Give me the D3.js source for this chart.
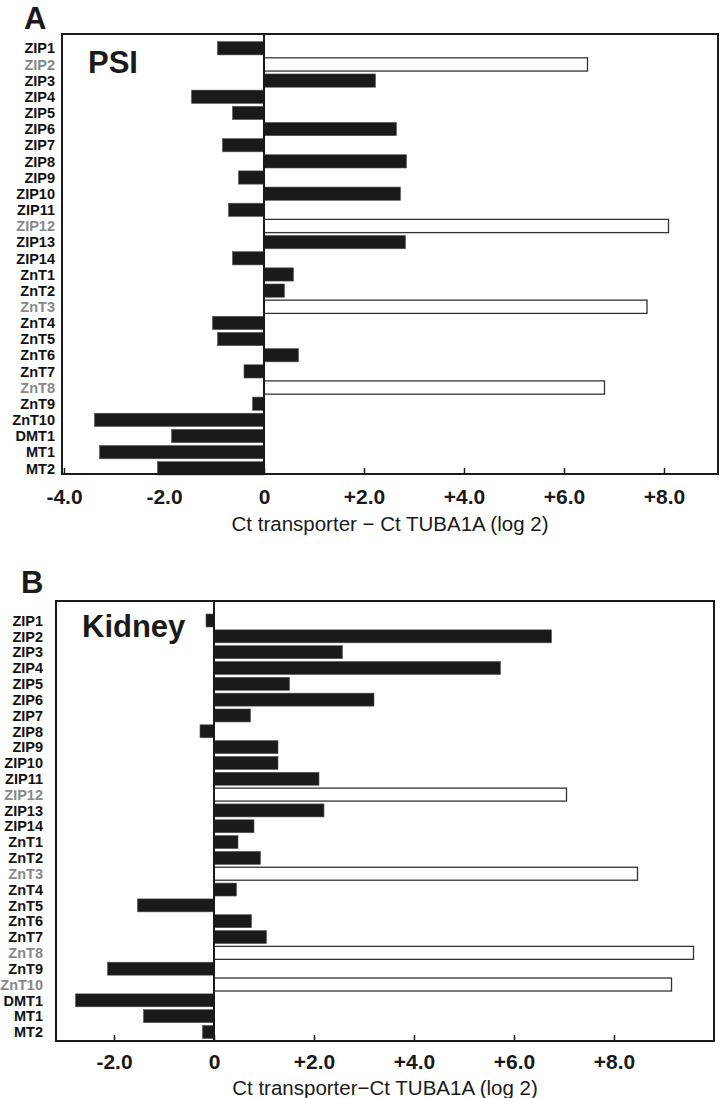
<!DOCTYPE html>
<html>
<head>
<meta charset="utf-8">
<script src="https://cdn.jsdelivr.net/npm/d3@7/dist/d3.min.js"></script>
<style>
  body { margin: 0; background: #fff; }
  svg { display: block; font-family: "Liberation Sans", Arial, sans-serif; }
</style>
</head>
<body>
<div id="chart"></div>
<script>
// transporter genes, same order in both panels
var genes = ["ZIP1", "ZIP2", "ZIP3", "ZIP4", "ZIP5", "ZIP6", "ZIP7", "ZIP8", "ZIP9", "ZIP10",
             "ZIP11", "ZIP12", "ZIP13", "ZIP14", "ZnT1", "ZnT2", "ZnT3", "ZnT4", "ZnT5", "ZnT6",
             "ZnT7", "ZnT8", "ZnT9", "ZnT10", "DMT1", "MT1", "MT2"];

// Ct transporter - Ct TUBA1A (log 2)
var psiValues = [-0.93, 6.47, 2.23, -1.45, -0.63, 2.65, -0.83, 2.85, -0.51, 2.73,
                 -0.71, 8.09, 2.83, -0.63, 0.59, 0.41, 7.66, -1.03, -0.93, 0.69,
                 -0.40, 6.81, -0.23, -3.39, -1.85, -3.29, -2.13];
var kidneyValues = [-0.16, 6.75, 2.57, 5.73, 1.51, 3.20, 0.73, -0.28, 1.28, 1.28,
                    2.10, 7.05, 2.20, 0.80, 0.48, 0.93, 8.47, 0.45, -1.53, 0.75,
                    1.05, 9.59, -2.13, 9.15, -2.77, -1.41, -0.23];

// genes drawn as open bars (and grey labels)
var psiOpen = ["ZIP2", "ZIP12", "ZnT3", "ZnT8"];
var kidneyOpen = ["ZIP12", "ZnT3", "ZnT8", "ZnT10"];

var psiTicks = [-4, -2, 0, 2, 4, 6, 8];
var kidneyTicks = [-2, 0, 2, 4, 6, 8];

var svg = d3.select("#chart").append("svg")
    .attr("width", 720)
    .attr("height", 1098);

function tickFormat(d) {
    if (d === 0) return "0";
    return (d > 0 ? "+" : "-") + Math.abs(d).toFixed(1);
}

function drawPanel(p) {
    var x = d3.scaleLinear()
        .domain(p.xDomain)
        .range([p.left, p.right]);

    var y = d3.scaleBand()
        .domain(genes)
        .range(p.bandRange)
        .paddingInner(0.18)
        .paddingOuter(0.09);

    var g = svg.append("g");

    // bars
    g.selectAll(".bar")
        .data(p.values)
        .enter().append("rect")
        .attr("class", "bar")
        .attr("x", function (d) { return x(Math.min(0, d)); })
        .attr("y", function (d, i) { return y(genes[i]); })
        .attr("width", function (d) { return Math.abs(x(d) - x(0)); })
        .attr("height", y.bandwidth())
        .style("fill", function (d, i) { return p.open.indexOf(genes[i]) >= 0 ? "#fff" : "#1a1a1a"; })
        .style("stroke", function (d, i) { return p.open.indexOf(genes[i]) >= 0 ? "#333" : "#555"; })
        .style("stroke-width", function (d, i) { return p.open.indexOf(genes[i]) >= 0 ? 1.3 : 0.6; });

    // gene labels
    g.selectAll(".geneLabel")
        .data(genes)
        .enter().append("text")
        .attr("class", "geneLabel")
        .text(function (d) { return d; })
        .attr("x", p.labelX)
        .attr("y", function (d) { return y(d) + y.bandwidth() / 2; })
        .attr("dy", "0.36em")
        .style("text-anchor", "end")
        .style("font-size", "14.5px")
        .style("font-weight", "bold")
        .style("fill", function (d) { return p.open.indexOf(d) >= 0 ? "#888" : "#111"; });

    // zero line
    g.append("line")
        .attr("x1", x(0)).attr("x2", x(0))
        .attr("y1", p.top).attr("y2", p.bottom)
        .style("stroke", "#1a1a1a")
        .style("stroke-width", 2);

    // x axis with inward ticks
    var axis = d3.axisBottom(x)
        .tickValues(p.ticks)
        .tickSize(-6)
        .tickPadding(p.tickPad)
        .tickFormat(tickFormat);

    var ax = g.append("g")
        .attr("transform", "translate(0," + p.bottom + ")")
        .call(axis);
    ax.select(".domain").remove();
    ax.selectAll(".tick line").style("stroke", "#1a1a1a").style("stroke-width", 1.5);
    ax.selectAll(".tick text")
        .style("font-family", "Liberation Sans, Arial, sans-serif")
        .style("font-size", "21px")
        .style("font-weight", "bold")
        .style("fill", "#1a1a1a");

    // frame
    g.append("rect")
        .attr("x", p.left).attr("y", p.top)
        .attr("width", p.right - p.left)
        .attr("height", p.bottom - p.top)
        .style("fill", "none")
        .style("stroke", "#1a1a1a")
        .style("stroke-width", 2);

    // axis title
    g.append("text")
        .text(p.xTitle)
        .attr("x", (p.left + p.right) / 2)
        .attr("y", p.titleY)
        .style("text-anchor", "middle")
        .style("font-size", "20.5px")
        .style("fill", "#1a1a1a");

    // panel letter and tissue name
    g.append("text")
        .text(p.letter)
        .attr("x", p.letterX)
        .attr("y", p.letterY)
        .style("font-size", "31px")
        .style("font-weight", "bold")
        .style("fill", "#1a1a1a");

    g.append("text")
        .text(p.tissue)
        .attr("x", p.tissueX)
        .attr("y", p.tissueY)
        .style("font-size", "31px")
        .style("font-weight", "bold")
        .style("fill", "#1a1a1a");
}

drawPanel({
    values: psiValues, open: psiOpen, ticks: psiTicks,
    xDomain: [-4.04, 9.08], left: 62, right: 718, top: 34, bottom: 474,
    bandRange: [40.2, 476.4], labelX: 55, tickPad: 15, titleY: 531,
    xTitle: "Ct transporter \u2212 Ct TUBA1A (log 2)",
    letter: "A", letterX: 24, letterY: 29,
    tissue: "PSI", tissueX: 88, tissueY: 73
});

drawPanel({
    values: kidneyValues, open: kidneyOpen, ticks: kidneyTicks,
    xDomain: [-3.16, 10.0], left: 56, right: 714, top: 601, bottom: 1041,
    bandRange: [612.6, 1039.9], labelX: 43, tickPad: 13, titleY: 1095,
    xTitle: "Ct transporter\u2212Ct TUBA1A (log 2)",
    letter: "B", letterX: 21, letterY: 593,
    tissue: "Kidney", tissueX: 82, tissueY: 637
});
</script>
</body>
</html>
